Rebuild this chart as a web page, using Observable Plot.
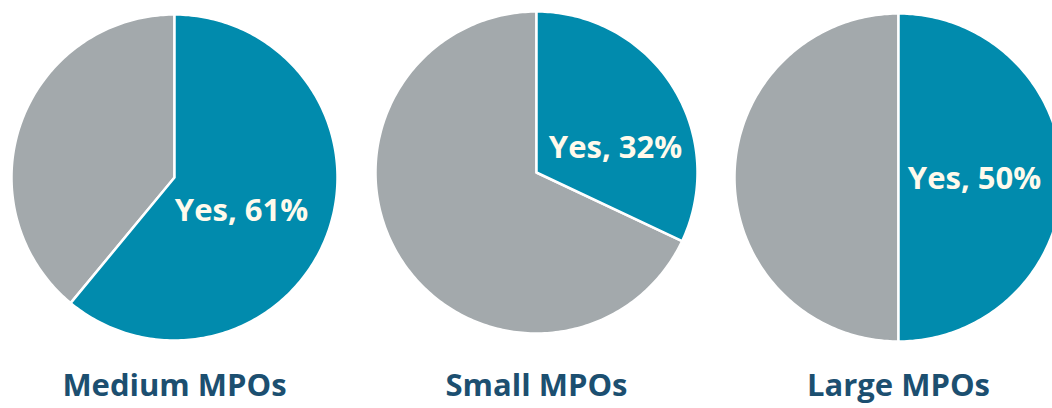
<!DOCTYPE html>
<html><head><meta charset="utf-8">
<script src="https://cdn.jsdelivr.net/npm/d3@7"></script>
<script src="https://cdn.jsdelivr.net/npm/@observablehq/plot@0.6"></script>
<style>html,body{margin:0;padding:0;background:#fff;overflow:hidden}</style>
</head><body><div id="chart"></div>
<script>
// ---- data ----
const categories = ["Medium MPOs", "Small MPOs", "Large MPOs"];
const yesShare = [61, 32, 50];            // percent answering "Yes"
const yesLabels = ["Yes, 61%", "Yes, 32%", "Yes, 50%"];

// ---- layout (pixels) ----
const W = 1052, H = 408;
const centersPx = [[174, 177], [536, 172], [898, 177]];
const radiiPx = [163, 161, 164];
const labelOffsetPx = [[67, 34], [79, -24], [76, 2]];
const categoryLabelY = 386;

// ---- style ----
const teal = "#018bad", gray = "#a3a9ac", navy = "#1c4f70", cream = "#fffaec";
const font = "Open Sans";

// build slice polygons from the shares
function slicePoints(i, a0, a1, id) {
  const [cx, cy] = centersPx[i], r = radiiPx[i];
  const pts = [{id, x: cx, y: cy}];
  const n = Math.max(2, Math.ceil((a1 - a0) / (Math.PI / 180)));
  for (let k = 0; k <= n; k++) {
    const t = a0 + (a1 - a0) * k / n;
    pts.push({id, x: cx + r * Math.sin(t), y: cy - r * Math.cos(t)});
  }
  return pts;
}
const yesPts = [], noPts = [];
categories.forEach((c, i) => {
  const a = yesShare[i] / 100 * 2 * Math.PI;
  yesPts.push(...slicePoints(i, 0, a, c + "-yes"));
  noPts.push(...slicePoints(i, a, 2 * Math.PI, c + "-no"));
});

const yesText = categories.map((c, i) => ({
  label: yesLabels[i],
  x: centersPx[i][0] + labelOffsetPx[i][0],
  y: centersPx[i][1] + labelOffsetPx[i][1]
}));
const catText = categories.map((c, i) => ({label: c, x: centersPx[i][0], y: categoryLabelY}));

const chart = Plot.plot({
  width: W, height: H,
  margin: 0,
  x: {domain: [0, W], range: [0, W], axis: null},
  y: {domain: [0, H], range: [0, H], axis: null},
  style: {background: "#fff", fontFamily: font},
  marks: [
    Plot.line(noPts, {x: "x", y: "y", z: "id", fill: gray, stroke: "#fff", strokeWidth: 2.5, curve: "linear-closed"}),
    Plot.line(yesPts, {x: "x", y: "y", z: "id", fill: teal, stroke: "#fff", strokeWidth: 2.5, curve: "linear-closed"}),
    Plot.text(yesText, {x: "x", y: "y", text: "label", fill: cream, fontSize: 31, fontWeight: "bold", fontFamily: font}),
    Plot.text(catText, {x: "x", y: "y", text: "label", fill: navy, fontSize: 31, fontWeight: "bold", fontFamily: font})
  ]
});
document.getElementById("chart").append(chart);
</script>
</body></html>
